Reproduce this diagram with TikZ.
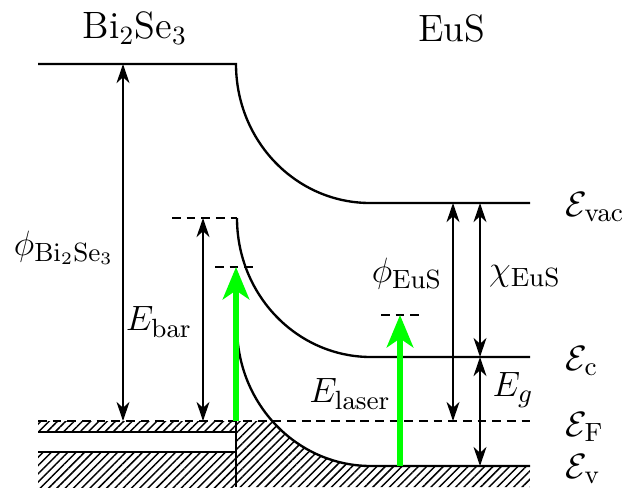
\documentclass[tikz,border=0pt]{standalone}
\usepackage{amsmath}
\usepackage{amssymb}
\usepackage{tikz}
\usetikzlibrary{arrows.meta,patterns.meta}

\begin{document}
\begin{tikzpicture}[x=0.012cm,y=-0.012cm,line width=0.8pt,
        every node/.style={font=\fontsize{13}{15}\selectfont},
        fermi/.style={dash pattern=on 3pt off 2pt},
        dbl/.style={{Stealth[length=6.5pt,width=4.4pt,inset=2pt]}-{Stealth[length=6.5pt,width=4.4pt,inset=2pt]}},
        laser/.style={green,line width=2pt,-{Stealth[length=11pt,width=9pt,inset=3pt]}},
        hatch/.style={pattern={Lines[angle=45,distance=2pt,line width=0.5pt]}}]
            \useasboundingbox (0,0) rectangle (631,487);

            % band edges
            \coordinate (vacL) at (38,64);
            \coordinate (vacB) at (236,64);
            \coordinate (vacE) at (370,203);
            \coordinate (vacR) at (530,203);
            \coordinate (cB) at (237,218);
            \coordinate (cE) at (371,357);
            \coordinate (cR) at (530,357);
            \coordinate (vB) at (237,327);
            \coordinate (vE) at (371,466);
            \coordinate (vR) at (530,466);
            \coordinate (fL) at (38,421);
            \coordinate (fR) at (530,421);

            % filled states
            \fill[hatch] (38,421) rectangle (236,432);
            \fill[hatch] (38,452) rectangle (236,487);
            \begin{scope}
                \clip (236,421) rectangle (530,487);
                \fill[hatch] (vB) .. controls (237,404) and (297,466) .. (vE) -- (vR) -- (530,487) -- (237,487) -- cycle;
            \end{scope}
            \draw (38,432) -- (236,432);
            \draw (38,452) -- (236,452);
            \draw (236,421) -- (236,487);

            \draw (vacL) -- (vacB) .. controls (236,141) and (296,203) .. (vacE) -- (vacR);
            \draw (cB) .. controls (237,295) and (297,357) .. (cE) -- (cR);
            \draw (vB) .. controls (237,404) and (297,466) .. (vE) -- (vR);
            \draw[fermi] (fL) -- (fR);

            % marks
            \coordinate (barL) at (172,218);
            \coordinate (t1L) at (215,267);
            \coordinate (t1R) at (257,267);
            \coordinate (t2L) at (381,315);
            \coordinate (t2R) at (421,315);
            \draw[fermi] (barL) -- (cB);
            \draw[fermi] (t1L) -- (t1R);
            \draw[fermi] (t2L) -- (t2R);

            % energies
            \coordinate (p1) at (123,64);
            \coordinate (p2) at (123,421);
            \coordinate (b1) at (203,218);
            \coordinate (b2) at (203,421);
            \coordinate (e1) at (453,203);
            \coordinate (e2) at (453,421);
            \coordinate (x1) at (480,203);
            \coordinate (x2) at (480,357);
            \coordinate (g1) at (480,466);
            \draw[dbl] (p1) -- (p2);
            \draw[dbl] (b1) -- (b2);
            \draw[dbl] (e1) -- (e2);
            \draw[dbl] (x1) -- (x2);
            \draw[dbl] (x2) -- (g1);

            \coordinate (l1) at (236,421);
            \coordinate (l2) at (236,267);
            \coordinate (l3) at (400,466);
            \coordinate (l4) at (400,315);
            \draw[laser] (l1) -- (l2);
            \draw[laser] (l3) -- (l4);

            % labels
            \node (bise) at (135,28) {Bi$_2$Se$_3$};
            \node (eus) at (452,28) {EuS};
            \node (phib) at (64,248) {$\phi_{\mathrm{Bi_2Se_3}}$};
            \node (ebar) at (159,322) {$E_{\mathrm{bar}}$};
            \node (elas) at (350,394) {$E_{\mathrm{laser}}$};
            \node (phie) at (407,274) {$\phi_{\mathrm{EuS}}$};
            \node (chie) at (525,276) {$\chi_{\mathrm{EuS}}$};
            \node (eg) at (513,390) {$E_g$};
            \node[anchor=base west] (lvac) at (555,216) {$\mathcal{E}_{\mathrm{vac}}$};
            \node[anchor=base west] (lc) at (555,370) {$\mathcal{E}_{\mathrm{c}}$};
            \node[anchor=base west] (lf) at (555,436) {$\mathcal{E}_{\mathrm{F}}$};
            \node[anchor=base west] (lv) at (555,478) {$\mathcal{E}_{\mathrm{v}}$};
        \end{tikzpicture}
\end{document}
